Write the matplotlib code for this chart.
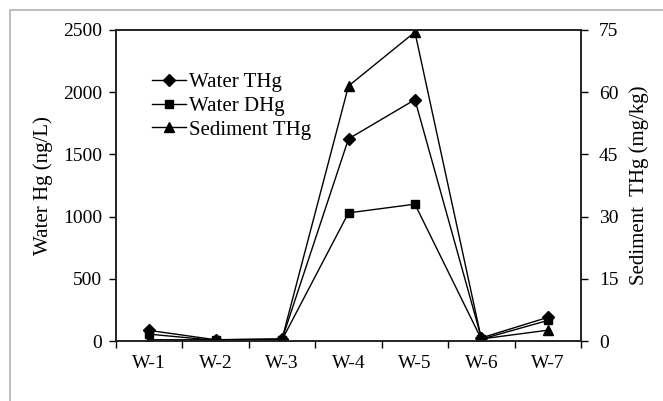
import matplotlib
matplotlib.use('Agg')
import matplotlib.pyplot as plt
import numpy as np
from matplotlib.patches import Rectangle

sites = ['W-1', 'W-2', 'W-3', 'W-4', 'W-5', 'W-6', 'W-7']
water_thg = [85, 10, 15, 1625, 1940, 25, 190]      # ng/L
water_dhg = [55, 5, 10, 1030, 1100, 15, 165]       # ng/L
sediment_thg = [0.3, 0.3, 0.5, 61.5, 74.5, 0.5, 2.6]  # mg/kg

plt.rcParams['font.family'] = 'Liberation Serif'
plt.rcParams['font.size'] = 14

fig = plt.figure(figsize=(6.63, 4.01), dpi=100)
# light grey frame around the figure
fig.patches.append(Rectangle((10 / 663, -0.05), 1.2, 1 - 10 / 401 + 0.05,
                             transform=fig.transFigure, fill=False,
                             edgecolor='#b0b0b0', linewidth=1.2))

ax = fig.add_axes([116 / 663, 1 - 341 / 401, (581 - 116) / 663, (341 - 30) / 401])
ax2 = ax.twinx()

x = np.arange(len(sites))
l1, = ax.plot(x, water_thg, color='black', lw=1, marker='D', ms=6, label='Water THg')
l2, = ax.plot(x, water_dhg, color='black', lw=1, marker='s', ms=6, label='Water DHg')
l3, = ax2.plot(x, sediment_thg, color='black', lw=1, marker='^', ms=7, label='Sediment THg')

ax.set_xlim(-0.5, len(sites) - 0.5)
ax.set_ylim(0, 2500)
ax.set_yticks(np.arange(0, 2501, 500))
ax2.set_ylim(0, 75)
ax2.set_yticks(np.arange(0, 76, 15))

ax.set_xticks(x)
ax.set_xticklabels(sites)
ax.tick_params(axis='x', which='major', length=0, pad=10)
ax.set_xticks(np.arange(-0.5, len(sites), 1), minor=True)
ax.tick_params(axis='x', which='minor', length=5, width=1, direction='out')
ax.tick_params(axis='y', length=5, width=1, direction='out', pad=5)
ax2.tick_params(axis='y', length=5, width=1, direction='out', pad=8)

for a in (ax, ax2):
    for s in a.spines.values():
        s.set_linewidth(1.2)
        s.set_color('#222222')

ax.set_ylabel('Water Hg (ng/L)', fontsize=15, labelpad=7)
ax2.set_ylabel('Sediment  THg (mg/kg)', fontsize=15, labelpad=8)

ax.legend(handles=[l1, l2, l3], loc='upper left', bbox_to_anchor=(0.06, 0.89),
          frameon=False, fontsize=15, handlelength=1.6, handletextpad=0.15,
          labelspacing=0.2, borderaxespad=0)

plt.savefig('out.png', dpi=100)
plt.close()
